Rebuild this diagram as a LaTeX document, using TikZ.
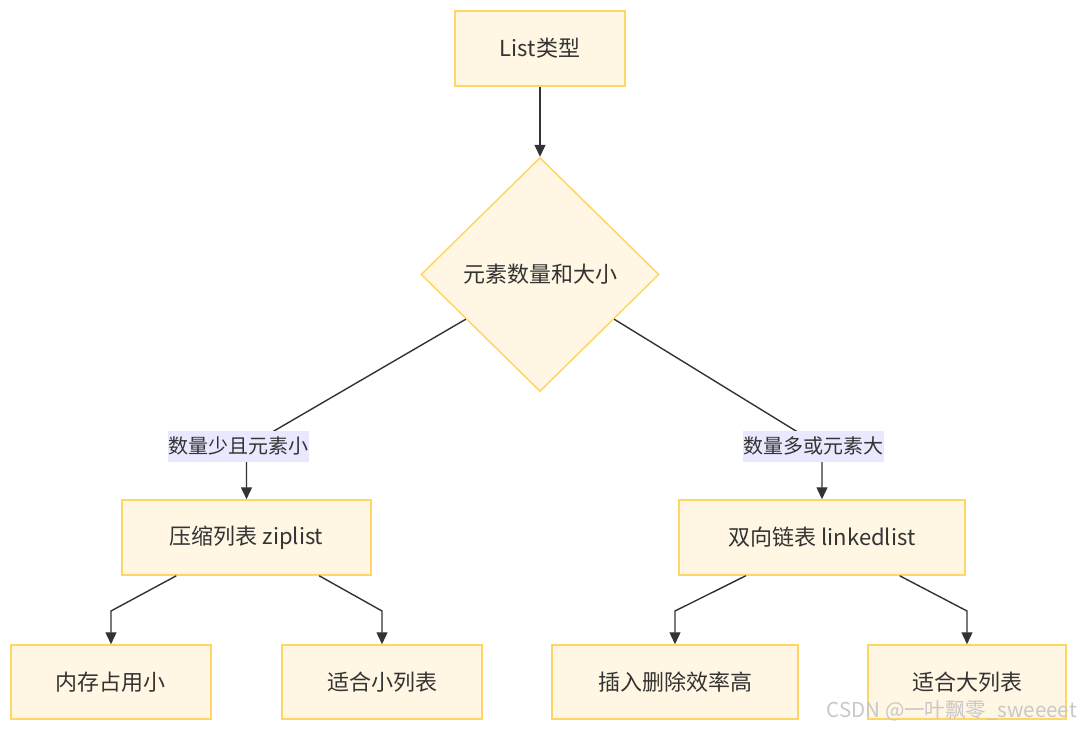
\documentclass[tikz,border=0pt]{standalone}
\usepackage{fontspec}
\setmainfont{Noto Sans CJK SC}
\usetikzlibrary{shapes.geometric,arrows.meta,calc}
\definecolor{boxfill}{HTML}{FFF6E3}
\definecolor{boxdraw}{HTML}{FFD666}
\definecolor{txt}{HTML}{333333}
\definecolor{lblbg}{HTML}{E8E8FF}
\definecolor{wm}{HTML}{C8C8C8}
\tikzset{
  box/.style={draw=boxdraw, fill=boxfill, line width=1.5pt, inner sep=0pt,
    minimum height=75pt, text=txt, font=\fontsize{22}{25}\selectfont},
  dec/.style={diamond, draw=boxdraw, fill=boxfill, line width=1.5pt, inner sep=0pt,
    minimum width=238pt, minimum height=234pt, text=txt, font=\fontsize{22}{25}\selectfont},
  lbl/.style={fill=lblbg, inner sep=0pt, minimum height=31pt, minimum width=141pt,
    text=txt, font=\fontsize{20}{23}\selectfont},
  conn/.style={draw=txt, line width=1.4pt},
  arr/.style={conn, -{Triangle[length=12pt,width=11pt]}},
}
\begin{document}
\begin{tikzpicture}[x=1pt,y=-1pt]
\useasboundingbox (0,0) rectangle (1080,731);
\fill[white] (0,0) rectangle (1080,731);

\node[box, minimum width=170pt] (top) at (540,48.5) {List类型};
\node[dec] (dia) at (540,274.5) {元素数量和大小};
\node[box, minimum width=249pt] (zip) at (246.5,537.5) {压缩列表 ziplist};
\node[box, minimum width=286pt] (lnk) at (822,537.5) {双向链表 linkedlist};
\node[box, minimum width=200pt, minimum height=74pt] (n1) at (111,682) {内存占用小};
\node[box, minimum width=200pt, minimum height=74pt] (n2) at (382,682) {适合小列表};
\node[box, minimum width=246pt, minimum height=74pt] (n3) at (675,682) {插入删除效率高};
\node[box, minimum width=198pt, minimum height=74pt] (n4) at (967,682) {适合大列表};

\coordinate (kl) at (246.5,447);
\coordinate (kr) at (822,447);
\coordinate (b1) at (111,611);
\coordinate (b2) at (382,611);
\coordinate (b3) at (675,611);
\coordinate (b4) at (967,611);

\draw[arr] (top.south) -- (dia.north);
\draw[arr] ($(dia.west)!0.38!(dia.south)$) -- (kl) -- (zip.north);
\draw[arr] ($(dia.east)!0.38!(dia.south)$) -- (kr) -- (lnk.north);
\draw[arr] ($(zip.south west)!0.22!(zip.south east)$) -- (b1) -- (n1.north);
\draw[arr] ($(zip.south west)!0.79!(zip.south east)$) -- (b2) -- (n2.north);
\draw[arr] ($(lnk.south west)!0.235!(lnk.south east)$) -- (b3) -- (n3.north);
\draw[arr] ($(lnk.south west)!0.77!(lnk.south east)$) -- (b4) -- (n4.north);

\node[lbl] (l1) at (238,446) {数量少且元素小};
\node[lbl] (l2) at (813,446) {数量多或元素大};

\node[anchor=east, text=wm, inner sep=0pt, font=\fontsize{20.5}{23}\selectfont] (wmk) at (1077,711) {CSDN @一叶飘零\_sweeeet};
\end{tikzpicture}
\end{document}
